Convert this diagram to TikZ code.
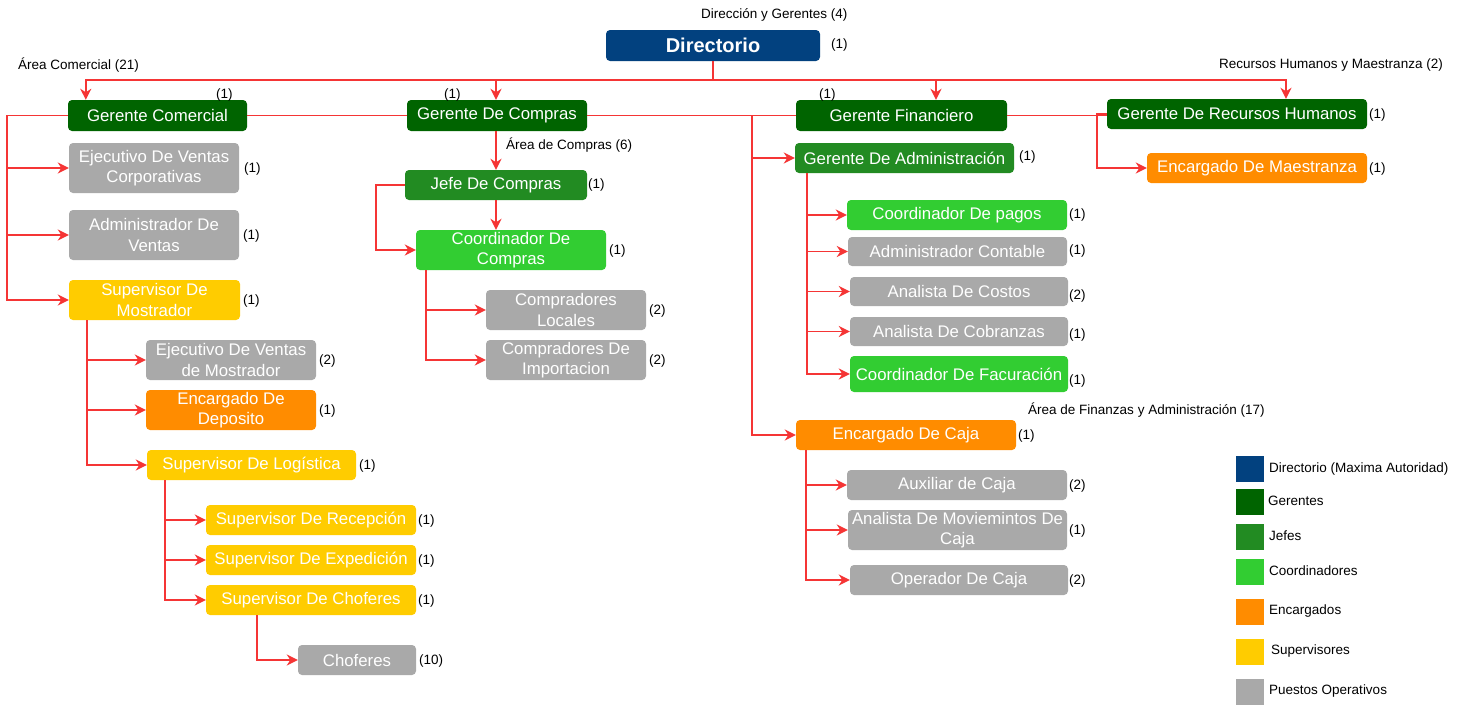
\documentclass[tikz,border=0pt]{standalone}
\usepackage{fontspec}
\setmainfont{Liberation Sans}
\usetikzlibrary{arrows.meta,calc}
\definecolor{dirblue}{HTML}{02417F}
\definecolor{gercol}{HTML}{006400}
\definecolor{jefcol}{HTML}{228B22}
\definecolor{coocol}{HTML}{32CD32}
\definecolor{enccol}{HTML}{FF8C00}
\definecolor{supcol}{HTML}{FFCC00}
\definecolor{opcol}{HTML}{A9A9A9}
\definecolor{linered}{HTML}{F53535}
\tikzset{
  box/.style={rounded corners=4pt, text=white, align=center, inner sep=0pt,
    font=\fontsize{16.8}{20.5}\selectfont},
  dirbox/.style={box, fill=dirblue, font=\fontsize{20}{24}\selectfont\bfseries},
  gerbox/.style={box, fill=gercol},
  jefbox/.style={box, fill=jefcol},
  coobox/.style={box, fill=coocol},
  encbox/.style={box, fill=enccol},
  supbox/.style={box, fill=supcol},
  opbox/.style={box, fill=opcol},
  lab/.style={font=\fontsize{13.5}{16}\selectfont, inner sep=0pt, anchor=west},
  conn/.style={draw=linered, line width=1.9pt},
  arr/.style={conn, -{Stealth[length=11pt,width=11pt,inset=3.5pt]}},
  legsq/.style={minimum width=28pt, minimum height=26pt, inner sep=0pt},
}
\begin{document}
\begin{tikzpicture}[x=1pt,y=-1pt]
\useasboundingbox (0,0) rectangle (1467,707);
\fill[white] (0,0) rectangle (1467,707);

% main boxes
\node[dirbox, minimum width=214pt, minimum height=31pt] (dir) at (713,45.5) {Directorio};
\node[gerbox, minimum width=179pt, minimum height=31pt] (gc) at (157.5,115.5) {Gerente Comercial};
\node[gerbox, minimum width=180pt, minimum height=31pt] (gcomp) at (497,115.5) {Gerente De Compras};
\node[gerbox, minimum width=211pt, minimum height=31pt] (gf) at (901.5,115.5) {Gerente Financiero};
\node[gerbox, minimum width=260pt, minimum height=30pt] (grh) at (1237,114) {Gerente De Recursos Humanos};
\node[encbox, minimum width=220pt, minimum height=30pt] (em) at (1257,168) {Encargado De Maestranza};

% comercial
\node[opbox, minimum width=170pt, minimum height=50pt] (evc) at (154,168) {Ejecutivo De Ventas\\Corporativas};
\node[opbox, minimum width=170pt, minimum height=50pt] (adv) at (154,235) {Administrador De\\Ventas};
\node[supbox, minimum width=171pt, minimum height=40pt] (smo) at (154.5,300) {Supervisor De\\Mostrador};
\node[opbox, minimum width=170pt, minimum height=40pt] (evm) at (231,360) {Ejecutivo De Ventas\\de Mostrador};
\node[encbox, minimum width=170pt, minimum height=40pt] (edp) at (231,410) {Encargado De\\Deposito};
\node[supbox, minimum width=209pt, minimum height=30pt] (slog) at (251.5,465) {Supervisor De Logística};
\node[supbox, minimum width=210pt, minimum height=30pt] (srec) at (311,520) {Supervisor De Recepción};
\node[supbox, minimum width=210pt, minimum height=30pt] (sexp) at (311,560) {Supervisor De Expedición};
\node[supbox, minimum width=210pt, minimum height=30pt] (scho) at (311,600) {Supervisor De Choferes};
\node[opbox, minimum width=118pt, minimum height=30pt] (chof) at (357,660) {Choferes};

% compras
\node[jefbox, minimum width=182pt, minimum height=30pt] (jc) at (496,185) {Jefe De Compras};
\node[coobox, minimum width=190pt, minimum height=40pt] (cc) at (511,250) {Coordinador De\\Compras};
\node[opbox, minimum width=160pt, minimum height=40pt] (cl) at (566,310) {Compradores\\Locales};
\node[opbox, minimum width=160pt, minimum height=40pt] (ci) at (566,360) {Compradores De\\Importacion};

% finanzas
\node[jefbox, minimum width=219pt, minimum height=30pt] (gad) at (904.5,158) {Gerente De Administración};
\node[coobox, minimum width=220pt, minimum height=30pt] (cp) at (957,215) {Coordinador De pagos};
\node[opbox, minimum width=219pt, minimum height=29pt] (ac) at (957.5,251.5) {Administrador Contable};
\node[opbox, minimum width=218pt, minimum height=29pt] (acos) at (959,291.5) {Analista De Costos};
\node[opbox, minimum width=218pt, minimum height=29pt] (acob) at (959,331.5) {Analista De Cobranzas};
\node[coobox, minimum width=218pt, minimum height=36pt] (cf) at (959,374) {Coordinador De Facuración};
\node[encbox, minimum width=220pt, minimum height=30pt] (ecaja) at (906,435) {Encargado De Caja};
\node[opbox, minimum width=220pt, minimum height=30pt] (aux) at (957,485) {Auxiliar de Caja};
\node[opbox, minimum width=219pt, minimum height=40pt] (amc) at (957.5,530) {Analista De Moviemintos De\\Caja};
\node[opbox, minimum width=218pt, minimum height=30pt] (opc) at (959,580) {Operador De Caja};

% area labels
\node[lab] (tdir) at (701,15) {Dirección y Gerentes (4)};
\node[lab] (tcom) at (18,65) {Área Comercial (21)};
\node[lab] (trh) at (1219,65) {Recursos Humanos y Maestranza (2)};
\node[lab] (tcomp) at (506,145) {Área de Compras (6)};
\node[lab] (tfin) at (1028,410) {Área de Finanzas y Administración (17)};

% counts
\node[lab] (ndir) at (831,45) {(1)};
\node[lab] (ngc) at (216,95) {(1)};
\node[lab] (ngcomp) at (444,95) {(1)};
\node[lab] (ngf) at (819,95) {(1)};
\node[lab] (ngrh) at (1369,115) {(1)};
\node[lab] (nem) at (1369,169) {(1)};
\node[lab] (nevc) at (244,169) {(1)};
\node[lab] (nadv) at (243,236) {(1)};
\node[lab] (nsmo) at (243,301) {(1)};
\node[lab] (nevm) at (319,361) {(2)};
\node[lab] (nedp) at (319,411) {(1)};
\node[lab] (nslog) at (359,466) {(1)};
\node[lab] (nsrec) at (418,521) {(1)};
\node[lab] (nsexp) at (418,561) {(1)};
\node[lab] (nscho) at (418,601) {(1)};
\node[lab] (nchof) at (419,661) {(10)};
\node[lab] (njc) at (588,185) {(1)};
\node[lab] (ncc) at (609,251) {(1)};
\node[lab] (ncl) at (649,311) {(2)};
\node[lab] (nci) at (649,361) {(2)};
\node[lab] (ngad) at (1019,157) {(1)};
\node[lab] (ncp) at (1069,215) {(1)};
\node[lab] (nac) at (1069,251) {(1)};
\node[lab] (nacos) at (1069,296) {(2)};
\node[lab] (nacob) at (1069,335) {(1)};
\node[lab] (ncf) at (1069,381) {(1)};
\node[lab] (necaja) at (1018,436) {(1)};
\node[lab] (naux) at (1069,486) {(2)};
\node[lab] (namc) at (1069,531) {(1)};
\node[lab] (nopc) at (1069,581) {(2)};

% legend
\node[legsq, fill=dirblue] (l1) at (1250,469) {};
\node[legsq, fill=gercol] (l2) at (1250,501.5) {};
\node[legsq, fill=jefcol] (l3) at (1250,536.5) {};
\node[legsq, fill=coocol] (l4) at (1250,571.5) {};
\node[legsq, fill=enccol] (l5) at (1250,611.5) {};
\node[legsq, fill=supcol] (l6) at (1250,651.5) {};
\node[legsq, fill=opcol] (l7) at (1250,691.5) {};
\node[lab] (lt1) at (1269,469) {Directorio (Maxima Autoridad)};
\node[lab] (lt2) at (1268,501) {Gerentes};
\node[lab] (lt3) at (1269,536) {Jefes};
\node[lab] (lt4) at (1269,571) {Coordinadores};
\node[lab] (lt5) at (1269,611) {Encargados};
\node[lab] (lt6) at (1271,651) {Supervisores};
\node[lab] (lt7) at (1269,691) {Puestos Operativos};

% connectors: top level
\coordinate (bar) at ($(dir.south)+(0,19)$);
\draw[conn] (dir.south) -- (bar);
\draw[arr] (bar) -| ($(gc.north west)+(18,0)$);
\draw[arr] (bar) -| (gcomp.north -| jc.north);
\draw[arr] (bar) -| ($(gf.north)+(34.5,0)$);
\draw[arr] (bar) -| ($(grh.north)+(49,0)$);

% between managers
\draw[conn] (gc.east) -- (gcomp.west);
\draw[conn] (gcomp.east) -- (gf.west);
\draw[conn] (gf.east) -- (gf.east -| grh.west);

% comercial
\draw[arr] (gc.west) -- ++(-61,0) |- (evc.west);
\draw[arr] (gc.west) -- ++(-61,0) |- (adv.west);
\draw[arr] (gc.west) -- ++(-61,0) |- (smo.west);
\draw[arr] ($(smo.south west)+(18,0)$) |- (evm.west);
\draw[arr] ($(smo.south west)+(18,0)$) |- (edp.west);
\draw[arr] ($(smo.south west)+(18,0)$) |- (slog.west);
\draw[arr] ($(slog.south west)+(18,0)$) |- (srec.west);
\draw[arr] ($(slog.south west)+(18,0)$) |- (sexp.west);
\draw[arr] ($(slog.south west)+(18,0)$) |- (scho.west);
\draw[arr] ($(scho.south west)+(51,0)$) |- (chof.west);

% compras
\draw[arr] (gcomp.south -| jc.north) -- (jc.north);
\draw[arr] (jc.west) -- ++(-29,0) |- (cc.west);
\draw[arr] (jc.south) -- (jc.south |- cc.north);
\draw[arr] ($(cc.south west)+(10,0)$) |- (cl.west);
\draw[arr] ($(cc.south west)+(10,0)$) |- (ci.west);

% finanzas
\draw[arr] (gf.west) -- ++(-44,0) |- (gad.west);
\draw[arr] (gf.west) -- ++(-44,0) |- (ecaja.west);
\draw[arr] ($(gad.south west)+(12,0)$) |- (cp.west);
\draw[arr] ($(gad.south west)+(12,0)$) |- (ac.west);
\draw[arr] ($(gad.south west)+(12,0)$) |- (acos.west);
\draw[arr] ($(gad.south west)+(12,0)$) |- (acob.west);
\draw[arr] ($(gad.south west)+(12,0)$) |- (cf.west);
\draw[arr] ($(ecaja.south west)+(10,0)$) |- (aux.west);
\draw[arr] ($(ecaja.south west)+(10,0)$) |- (amc.west);
\draw[arr] ($(ecaja.south west)+(10,0)$) |- (opc.west);

% rrhh
\draw[arr] (grh.west) -- ++(-10,0) |- (em.west);
\end{tikzpicture}
\end{document}
